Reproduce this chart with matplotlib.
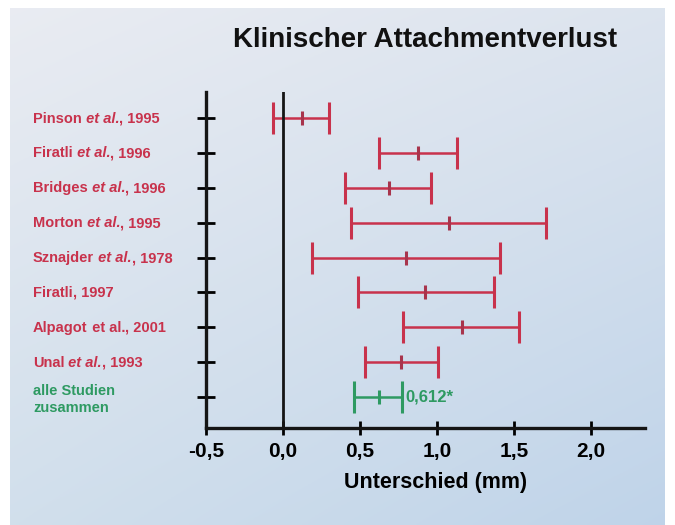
import matplotlib
matplotlib.use("Agg")
import matplotlib.pyplot as plt
import matplotlib.transforms as mtransforms
import numpy as np

plt.rcParams['font.family'] = ['Liberation Sans', 'DejaVu Sans']
plt.rcParams['font.weight'] = 'bold'

# data
authors = ["Pinson", "Firatli", "Bridges", "Morton", "Sznajder", "Firatli", "Alpagot", "Unal"]
etal = [" et al.", " et al.", " et al.", " et al.", " et al.", "", " et al.", " et al."]
etal_italic = [True, True, True, True, True, False, False, True]
years = ["1995", "1996", "1996", "1995", "1978", "1997", "2001", "1993"]
lower = [-0.065, 0.62, 0.40, 0.44, 0.19, 0.485, 0.78, 0.53]
mean = [0.12, 0.875, 0.685, 1.075, 0.80, 0.92, 1.165, 0.765]
upper = [0.30, 1.13, 0.96, 1.71, 1.41, 1.37, 1.535, 1.005]

pooled_label = "alle Studien\nzusammen"
pooled_lower = 0.46
pooled_mean = 0.62
pooled_upper = 0.77
pooled_text = "0,612*"

xticks = [-0.5, 0.0, 0.5, 1.0, 1.5, 2.0]
xticklabels = ["-0,5", "0,0", "0,5", "1,0", "1,5", "2,0"]

red = "#c8324c"
red_dark = "#a8344c"
green = "#2e9a62"

fig = plt.figure(figsize=(6.75, 5.25), dpi=100)
fig.patch.set_facecolor("white")

# background panel with soft blue gradient
bg = fig.add_axes([10 / 675, 0, 655 / 675, 517 / 525])
tl = np.array([0.915, 0.925, 0.950])
tr = np.array([0.865, 0.895, 0.935])
bl = np.array([0.820, 0.875, 0.925])
br = np.array([0.750, 0.830, 0.915])
u = np.linspace(0, 1, 200)[None, :, None]
v = np.linspace(0, 1, 200)[:, None, None]
grad = (1 - v) * ((1 - u) * tl + u * tr) + v * ((1 - u) * bl + u * br)
bg.imshow(grad, aspect="auto", extent=[0, 1, 0, 1])
bg.axis("off")

ax = fig.add_axes([206 / 675, 1 - 428 / 525, (645 - 206) / 675, (428 - 92) / 525])
ax.patch.set_alpha(0)

n = len(authors)
rows = np.arange(n)
mean_a = np.array(mean)
ax.errorbar(mean_a, rows, xerr=[mean_a - np.array(lower), np.array(upper) - mean_a],
            fmt="none", ecolor=red, elinewidth=1.8, capsize=11.5, capthick=2.2)
ax.plot(mean, rows, linestyle="none", marker="|", markersize=10, mew=2.2, color=red_dark)

ax.errorbar([pooled_mean], [n], xerr=[[pooled_mean - pooled_lower], [pooled_upper - pooled_mean]],
            fmt="none", ecolor=green, elinewidth=1.8, capsize=11.5, capthick=2.2)
ax.plot([pooled_mean], [n], linestyle="none", marker="|", markersize=10, mew=2.2, color=green)
ax.annotate(pooled_text, (pooled_upper, n), xytext=(3, 0), textcoords="offset points",
            color=green, fontsize=12, fontweight="bold", va="center", ha="left")

ax.axvline(0, color="#151515", lw=2)

ax.set_xlim(-0.5, 2.35)
ax.set_ylim(n + 0.89, -0.75)
ax.set_yticks(list(rows) + [n])
ax.set_yticklabels([])
ax.set_xticks(xticks)
ax.set_xticklabels(xticklabels, fontsize=15, fontweight="bold")
ax.tick_params(axis="y", direction="inout", length=13, width=2, left=True)
ax.tick_params(axis="x", direction="inout", length=10, width=2, pad=5)
for s in ["top", "right"]:
    ax.spines[s].set_visible(False)
for s in ["left", "bottom"]:
    ax.spines[s].set_linewidth(2.4)
    ax.spines[s].set_color("#151515")
ax.set_xlabel("Unterschied (mm)", fontsize=15.5, fontweight="bold")
ax.xaxis.set_label_coords((436 - 206) / 439, -0.13)

# study labels, built from pieces on a shared baseline so "et al." can be italic
renderer = fig.canvas.get_renderer()
trans = mtransforms.blended_transform_factory(fig.transFigure, ax.transData)
for i in range(n):
    parts = [(authors[i], "normal")]
    if etal[i]:
        parts.append((etal[i], "italic" if etal_italic[i] else "normal"))
    parts.append((", " + years[i], "normal"))
    x_pt = 0.0
    for piece, style in parts:
        tr_i = mtransforms.offset_copy(trans, fig=fig, x=x_pt, y=-3.2, units="points")
        t = fig.text(33 / 675, i, piece, transform=tr_i, color=red, fontsize=10.5,
                     fontweight="bold", fontstyle=style, va="baseline", ha="left")
        x_pt += t.get_window_extent(renderer).width * 72 / fig.dpi
fig.text(33 / 675, n + 0.08, pooled_label, transform=trans, color=green, fontsize=10.5,
         fontweight="bold", va="center", ha="left", linespacing=1.25)

fig.text(425 / 675, 1 - 40 / 525, "Klinischer Attachmentverlust", fontsize=20,
         fontweight="bold", ha="center", va="center", color="#111111")

fig.savefig("out.png", dpi=100)
